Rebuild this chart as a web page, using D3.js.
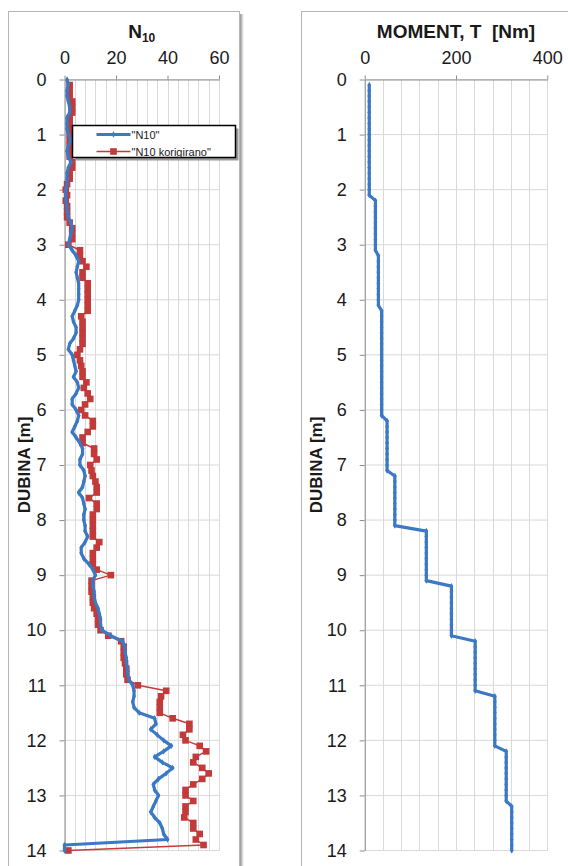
<!DOCTYPE html>
<html>
<head>
<meta charset="utf-8">
<script src="https://cdn.jsdelivr.net/npm/d3@7"></script>
<style>
  body { margin: 0; background: #fff; }
  svg { display: block; font-family: "Liberation Sans", Arial, sans-serif; }
</style>
</head>
<body>
<div id="chart"></div>
<script>
const width = 568,
height = 866;

// depth steps (m)
const depthN10 = d3.range(0, 141).map(i => i / 10);
const depthKor = d3.range(1, 141).map(i => i / 10);
const depthMoment = d3.range(1, 141).map(i => i / 10);

// "N10" (0.0 .. 14.0 m)
const n10 = [
  1, 1.5, 1, 1, 1.5, 2, 2, 1, 1, 1,
  1.5, 2.5, 1.5, 1, 1.5, 2.5, 1.5, 1, 1, 1,
  0.5, 0.5, 0.5, 1, 1, 1.5, 2.5, 3, 2.5, 2,
  1.5, 3, 4.5, 5.5, 5, 4.5, 5, 5.5, 5.5, 5.5,
  5.5, 5, 4, 3, 3.5, 4.5, 4.5, 3.5, 2, 1.5,
  3, 3.5, 4, 4.5, 3.5, 5, 5.5, 4.5, 3, 3,
  4.5, 5.5, 5, 4, 3, 4.5, 6, 7, 7, 6,
  6, 7.5, 8, 7.5, 7, 5.5, 7, 7.5, 8, 7.5,
  7.5, 8, 8, 9, 8, 6.5, 6.5, 7.5, 9.5, 11,
  12, 11, 11, 11.5, 11.5, 12, 13, 13.5, 14, 14,
  14.5, 18, 22.5, 23.5, 23.5, 24, 24, 24.5, 24.5, 25,
  26.5, 27, 27, 26.5, 27, 29, 35, 35.5, 33.5, 36,
  38.5, 41.5, 38.5, 35, 38, 42, 39.5, 36.5, 34.5, 35,
  36.5, 35.5, 34.5, 33.5, 35, 37, 38, 38.5, 40, 0,
  0
];

// "N10 korigirano" (0.1 .. 14.0 m)
const n10Kor = [
  2, 2, 2, 3, 3, 3, 2, 2, 2, 2,
  2, 2, 2, 2, 3, 3, 2, 2, 1, 0.5,
  1, 0.5, 1, 1, 1, 2, 3, 3, 3, 1.5,
  6, 6, 7, 8.5, 7, 7, 9, 9, 9, 9,
  9, 9, 6.5, 7, 7, 7, 7, 7, 6, 5,
  6, 6.5, 7, 7, 8.5, 7.5, 9, 10, 8, 6.5,
  8, 11, 11, 9, 7, 7, 11.5, 11.5, 12.5, 10,
  10.5, 11, 12, 12.5, 12.5, 9.5, 12.5, 12.5, 11, 11,
  11, 11, 11, 13.5, 12.5, 11, 11, 11, 12.5, 18,
  10.5, 10.5, 10.5, 11, 11, 11.5, 12.5, 13, 13, 14,
  17, 22, 23, 23, 23, 23.5, 24, 24, 24.5, 28.5,
  39.5, 37.5, 37, 37, 37, 42, 48.5, 48.5, 46, 47,
  52.5, 55, 51, 50, 53.5, 56, 53.5, 50, 47, 47,
  50, 47, 47, 46.5, 50, 50, 52.5, 51, 54, 1.5
];

// MOMENT, T [Nm] (0.1 .. 14.0 m)
const momentSteps = [
  { to: 2.1, value: 10 },
  { to: 3.1, value: 23.5 },
  { to: 4.1, value: 30 },
  { to: 6.1, value: 37 },
  { to: 7.1, value: 49 },
  { to: 8.1, value: 66 },
  { to: 9.1, value: 135 },
  { to: 10.1, value: 190 },
  { to: 11.1, value: 242 },
  { to: 12.1, value: 285 },
  { to: 13.1, value: 310 },
  { to: 14.0, value: 322 }
];
const moment = depthMoment.map(d => momentSteps.find(s => d <= s.to + 1e-9).value);

const blue = '#3b79c4',
red = '#c33a3a',
grid = '#d9d9d9',
axisColor = '#8c8c8c';

const svg = d3.select('#chart').
append('svg').
attr('width', width).
attr('height', height);

const defs = svg.append('defs');
const grad = defs.append('linearGradient').attr('id', 'shadow');
grad.append('stop').attr('offset', '0%').attr('stop-color', '#7a7a7a');
grad.append('stop').attr('offset', '100%').attr('stop-color', '#ffffff');

function panel(cfg) {
  const g = svg.append('g');

  // chart frame with shadow
  g.append('rect').
  attr('x', cfg.frame[0] + cfg.frame[2]).
  attr('y', cfg.frame[1] + 3).
  attr('width', 5).
  attr('height', height).
  attr('fill', 'url(#shadow)');
  g.append('rect').
  attr('x', cfg.frame[0] + 0.5).
  attr('y', cfg.frame[1] + 0.5).
  attr('width', cfg.frame[2]).
  attr('height', height).
  attr('fill', '#fff').
  attr('stroke', '#b5b5b5');

  const x = d3.scaleLinear().domain(cfg.xDomain).range(cfg.xRange);
  const y = d3.scaleLinear().domain([0, 14]).range([79.5, 850.5]);

  // grid
  g.append('g').selectAll('line').
  data(d3.range(cfg.xDomain[0], cfg.xDomain[1] + 1e-9, cfg.minor)).
  enter().append('line').
  attr('x1', d => Math.round(x(d)) + 0.5).
  attr('x2', d => Math.round(x(d)) + 0.5).
  attr('y1', y(0)).
  attr('y2', y(14)).
  attr('stroke', grid);
  g.append('g').selectAll('line').
  data(d3.range(0, 15)).
  enter().append('line').
  attr('x1', x(cfg.xDomain[0])).
  attr('x2', x(cfg.xDomain[1])).
  attr('y1', d => y(d)).
  attr('y2', d => y(d)).
  attr('stroke', grid);

  // axes
  const xAxis = g.append('g').
  attr('transform', `translate(0,${y(0)})`).
  call(d3.axisTop(x).tickValues(cfg.ticks).tickSize(4).tickPadding(12).tickSizeOuter(0));
  const yAxis = g.append('g').
  attr('transform', `translate(${x(cfg.xDomain[0])},0)`).
  call(d3.axisLeft(y).tickValues(d3.range(0, 15)).tickSize(5).tickPadding(13).tickSizeOuter(0));
  [xAxis, yAxis].forEach(a => {
    a.select('.domain').attr('stroke', axisColor);
    a.selectAll('.tick line').attr('stroke', axisColor);
    a.selectAll('.tick text').
    attr('fill', '#1a1a1a').
    style('font-size', '18px').
    style('font-family', '"Liberation Sans", Arial, sans-serif');
  });

  // titles
  const title = g.append('text').
  attr('x', (cfg.xRange[0] + cfg.xRange[1]) / 2).
  attr('y', 38).
  attr('text-anchor', 'middle').
  style('font-weight', 'bold').
  style('font-size', '19px').
  style('white-space', 'pre').
  attr('fill', '#1a1a1a');
  title.append('tspan').text(cfg.title);
  if (cfg.sub) {
    title.append('tspan').
    attr('dy', 4).
    style('font-size', '12px').
    text(cfg.sub);
  }

  g.append('text').
  attr('transform', `translate(${cfg.yTitleX},${(y(0) + y(14)) / 2}) rotate(-90)`).
  attr('text-anchor', 'middle').
  style('font-weight', 'bold').
  style('font-size', '17px').
  attr('fill', '#1a1a1a').
  text('DUBINA [m]');

  return { g, x, y };
}

function series(p, depths, values, color, lineWidth, marker, markerSize) {
  const pts = depths.map((d, i) => [values[i], d]);
  p.g.append('path').
  datum(pts).
  attr('fill', 'none').
  attr('stroke', color).
  attr('stroke-width', lineWidth).
  attr('stroke-linejoin', 'round').
  attr('d', d3.line().x(d => p.x(d[0])).y(d => p.y(d[1])));
  p.g.append('g').selectAll('path').
  data(pts).
  enter().append('path').
  attr('transform', d => `translate(${p.x(d[0])},${p.y(d[1])})`).
  attr('d', d3.symbol().type(marker).size(markerSize)).
  attr('fill', color);
}

// left chart: N10
const left = panel({
  frame: [8, 11, 231],
  xDomain: [0, 60],
  xRange: [64.5, 219],
  ticks: [0, 20, 40, 60],
  minor: 4,
  title: 'N',
  sub: '10',
  yTitleX: 30
});
series(left, depthKor, n10Kor, red, 1.5, d3.symbolSquare, 44);
series(left, depthN10, n10, blue, 3.2, d3.symbolDiamond, 12);

// legend
const legend = left.g.append('g').attr('transform', 'translate(72.5,125.5)');
legend.append('rect').
attr('x', 3).attr('y', 3).attr('width', 163).attr('height', 32).
attr('fill', '#9a9a9a');
legend.append('rect').
attr('width', 163).attr('height', 32).
attr('fill', '#fff').
attr('stroke', '#000').
attr('stroke-width', 1.5);
const legendItems = [
  { name: '"N10"', color: blue, w: 3.2, marker: d3.symbolDiamond, size: 12 },
  { name: '"N10 korigirano"', color: red, w: 1.5, marker: d3.symbolSquare, size: 44 }];

legend.selectAll('g.item').
data(legendItems).
enter().append('g').
attr('class', 'item').
attr('transform', (d, i) => `translate(0,${9 + i * 17})`).
each(function (d) {
  const it = d3.select(this);
  it.append('line').
  attr('x1', 24).attr('x2', 58).
  attr('stroke', d.color).attr('stroke-width', d.w);
  it.append('path').
  attr('transform', 'translate(41,0)').
  attr('d', d3.symbol().type(d.marker).size(d.size)).
  attr('fill', d.color);
  it.append('text').
  attr('x', 59).
  attr('y', 4).
  style('font-size', '11px').
  attr('fill', '#1a1a1a').
  text(d.name);
});

// right chart: MOMENT
const right = panel({
  frame: [301, 11, 300],
  xDomain: [0, 400],
  xRange: [364.7, 547.3],
  ticks: [0, 200, 400],
  minor: 40,
  title: 'MOMENT, T  [Nm]',
  yTitleX: 322
});
series(right, depthMoment, moment, blue, 3.2, d3.symbolDiamond, 12);
</script>
</body>
</html>
